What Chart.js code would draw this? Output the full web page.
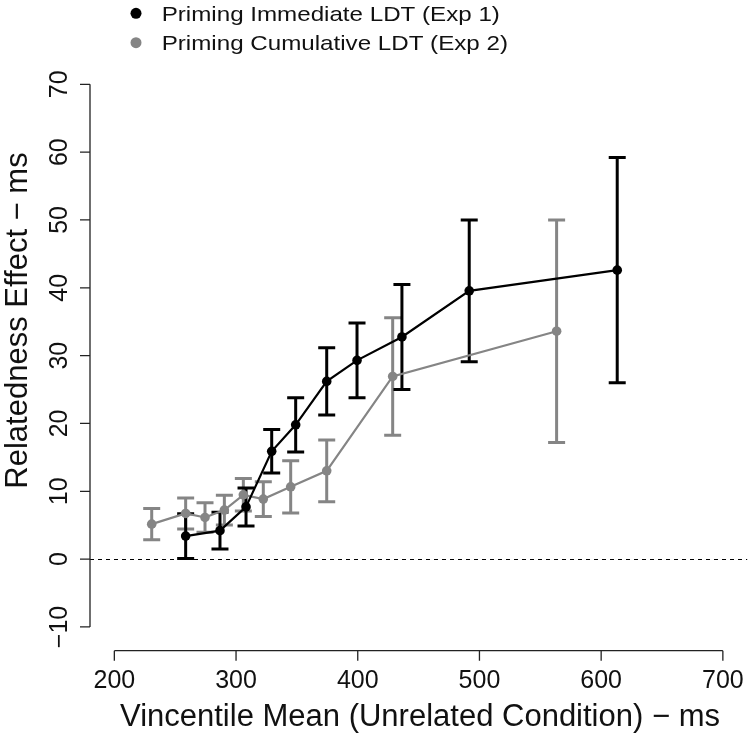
<!DOCTYPE html>
<html>
<head>
<meta charset="utf-8">
<script src="https://cdn.jsdelivr.net/npm/chart.js@4.4.1/dist/chart.umd.min.js"></script>
<style>
  html, body { margin: 0; padding: 0; background: #fff; }
  #wrap { width: 752px; height: 737px; position: relative; }
</style>
</head>
<body>
<div id="wrap"><canvas id="plot"></canvas></div>
<script>
// Exp 1 - immediate LDT
const exp1X = [258.6, 286.8, 308.2, 329.3, 349.0, 374.5, 399.4, 436.3, 491.6, 613.2];
const exp1Y = [3.4, 4.2, 7.7, 15.9, 19.8, 26.2, 29.3, 32.75, 39.55, 42.6];
const exp1Err = [3.3, 2.7, 2.8, 3.2, 4.0, 4.95, 5.5, 7.75, 10.45, 16.6];

// Exp 2 - cumulative LDT
const exp2X = [230.7, 258.6, 274.5, 290.4, 306.0, 322.4, 344.9, 374.5, 428.7, 563.4];
const exp2Y = [5.16, 6.73, 6.14, 7.23, 9.48, 8.85, 10.66, 13.02, 26.93, 33.6];
const exp2Err = [2.3, 2.3, 2.17, 2.2, 2.4, 2.56, 3.86, 4.55, 8.65, 16.4];

const xTicks = [200, 300, 400, 500, 600, 700];
const yTicks = [-10, 0, 10, 20, 30, 40, 50, 60, 70];

const seriesNames = ['Priming Immediate LDT (Exp 1)', 'Priming Cumulative LDT (Exp 2)'];
const black = '#000000';
const gray = '#858585';
const axisCol = '#222222';
const font = '"Liberation Sans", Arial, sans-serif';

function pts(xs, ys) {
    return xs.map((x, i) => ({ x: x, y: ys[i] }));
}

// error bars + R style axes, drawn with the chart's own scales
const rStuff = {
    id: 'rStuff',
    beforeDatasetsDraw(chart) {
        const c = chart.ctx, xs = chart.scales.x, ys = chart.scales.y;
        const area = chart.chartArea;
        c.save();
        // zero line
        c.strokeStyle = '#000';
        c.lineWidth = 1;
        c.setLineDash([4, 4]);
        c.beginPath();
        c.moveTo(area.left, Math.round(ys.getPixelForValue(0)) + 0.5);
        c.lineTo(area.right, Math.round(ys.getPixelForValue(0)) + 0.5);
        c.stroke();
        c.setLineDash([]);

        const bars = [[exp2X, exp2Y, exp2Err, gray], [exp1X, exp1Y, exp1Err, black]];
        bars.forEach(b => {
            c.strokeStyle = b[3];
            c.lineWidth = 3;
            b[0].forEach((x, i) => {
                const px = xs.getPixelForValue(x);
                const top = ys.getPixelForValue(b[1][i] + b[2][i]);
                const bot = ys.getPixelForValue(b[1][i] - b[2][i]);
                c.beginPath();
                c.moveTo(px, top); c.lineTo(px, bot);
                c.moveTo(px - 8.5, top); c.lineTo(px + 8.5, top);
                c.moveTo(px - 8.5, bot); c.lineTo(px + 8.5, bot);
                c.stroke();
            });
        });
        c.restore();
    },
    afterDraw(chart) {
        const c = chart.ctx, xs = chart.scales.x, ys = chart.scales.y;
        const area = chart.chartArea;
        c.save();
        c.strokeStyle = axisCol;
        c.lineWidth = 1.3;
        c.fillStyle = '#111';

        // y axis
        const ax = area.left;
        c.beginPath();
        c.moveTo(ax, ys.getPixelForValue(yTicks[0]));
        c.lineTo(ax, ys.getPixelForValue(yTicks[yTicks.length - 1]));
        yTicks.forEach(t => {
            const py = ys.getPixelForValue(t);
            c.moveTo(ax, py); c.lineTo(ax - 10, py);
        });
        c.stroke();
        c.font = '25px ' + font;
        c.textAlign = 'center';
        c.textBaseline = 'alphabetic';
        yTicks.forEach(t => {
            c.save();
            c.translate(ax - 23, ys.getPixelForValue(t));
            c.rotate(-Math.PI / 2);
            c.fillText(t < 0 ? '\u2212' + Math.abs(t) : String(t), 0, 0);
            c.restore();
        });

        // x axis
        const ay = area.bottom;
        c.beginPath();
        c.moveTo(xs.getPixelForValue(xTicks[0]), ay);
        c.lineTo(xs.getPixelForValue(xTicks[xTicks.length - 1]), ay);
        xTicks.forEach(t => {
            const px = xs.getPixelForValue(t);
            c.moveTo(px, ay); c.lineTo(px, ay + 10);
        });
        c.stroke();
        xTicks.forEach(t => {
            c.fillText(String(t), xs.getPixelForValue(t), ay + 37);
        });

        // titles
        c.font = '31px ' + font;
        c.fillText('Vincentile Mean (Unrelated Condition) \u2212 ms', 420, 726);
        c.save();
        c.translate(27, 320.5);
        c.rotate(-Math.PI / 2);
        c.fillText('Relatedness Effect \u2212 ms', 0, 0);
        c.restore();

        // legend
        const cols = [black, gray];
        c.textAlign = 'left';
        c.font = '21px ' + font;
        seriesNames.forEach((name, i) => {
            const cy = 13.3 + i * 29.4;
            c.fillStyle = cols[i];
            c.beginPath();
            c.arc(136, cy, 5.5, 0, Math.PI * 2);
            c.fill();
            c.fillStyle = '#111';
            c.save();
            c.translate(161.7, cy + 7.4);
            c.scale(1.15, 1);
            c.fillText(name, 0, 0);
            c.restore();
        });
        c.restore();
    }
};

const ctx = document.getElementById('plot').getContext('2d');
const plot = new Chart(ctx, {
    type: 'scatter',
    data: {
        datasets: [{
            label: seriesNames[1],
            data: pts(exp2X, exp2Y),
            showLine: true,
            borderColor: gray,
            backgroundColor: gray,
            borderWidth: 2.2,
            pointRadius: 4.8,
            pointBorderWidth: 0,
            order: 2
        }, {
            label: seriesNames[0],
            data: pts(exp1X, exp1Y),
            showLine: true,
            borderColor: black,
            backgroundColor: black,
            borderWidth: 2.2,
            pointRadius: 4.8,
            pointBorderWidth: 0,
            order: 1
        }]
    },
    options: {
        responsive: true,
        maintainAspectRatio: false,
        animation: false,
        layout: { padding: { left: 90, right: 4.6, top: 62.6, bottom: 86.3 } },
        scales: {
            x: { type: 'linear', display: false, min: 180, max: 720 },
            y: { type: 'linear', display: false, min: -13.5, max: 73.2 }
        },
        plugins: {
            legend: { display: false },
            tooltip: { enabled: false }
        }
    },
    plugins: [rStuff]
});
</script>
</body>
</html>
